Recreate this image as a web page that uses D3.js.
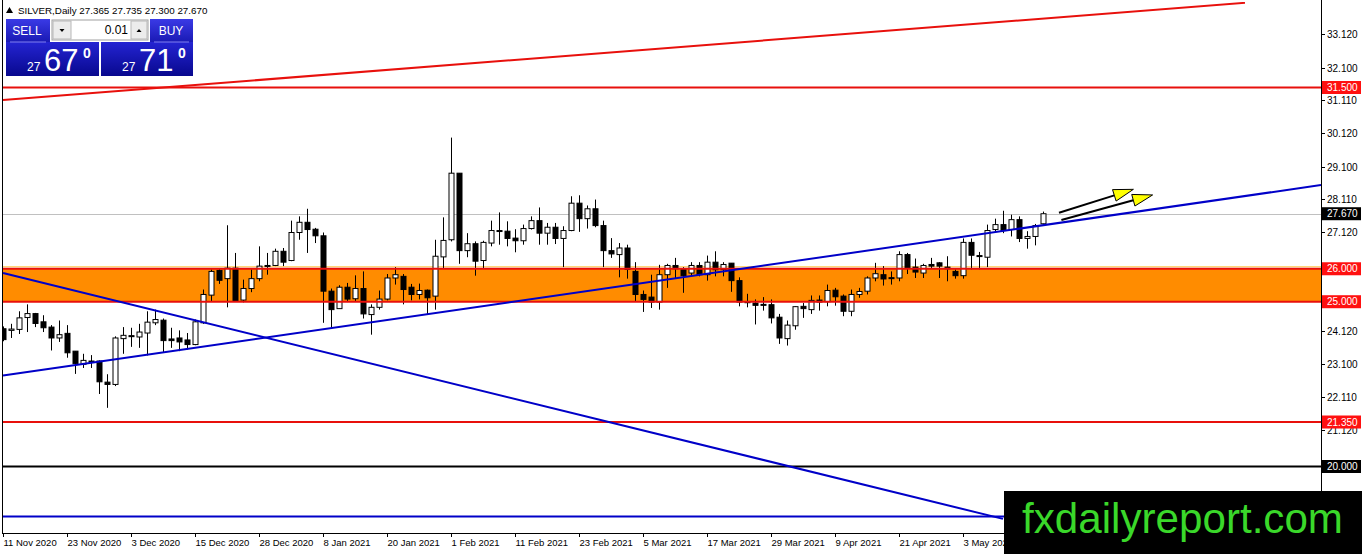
<!DOCTYPE html>
<html><head><meta charset="utf-8">
<script src="https://cdn.jsdelivr.net/npm/d3@7/dist/d3.min.js"></script>
<style>html,body{margin:0;padding:0;background:#fff;overflow:hidden}svg{display:block}text{font-family:"Liberation Sans",Arial,sans-serif}</style>
</head><body><svg id="c" width="1362" height="554"></svg>
<script>
// ---- data ----
const symbolTitle = "SILVER,Daily";
const lastOHLC = [27.365, 27.735, 27.300, 27.670];
// daily candles [open, high, low, close], one per trading day from 11 Nov 2020
const candles = [
[24.18,24.25,23.80,23.85],[24.13,24.33,23.90,24.17],[24.16,24.71,24.02,24.51],[24.52,24.92,24.08,24.64],
[24.64,24.66,24.23,24.34],[24.39,24.59,24.08,24.21],[24.23,24.29,23.52,23.90],[23.90,24.43,23.78,24.00],
[24.04,24.29,23.30,23.45],[23.50,23.50,22.81,23.12],[23.10,23.42,22.99,23.22],[23.18,23.38,22.99,23.20],
[23.20,23.22,22.20,22.57],[22.56,22.80,21.78,22.49],[22.49,23.95,22.44,23.90],[23.88,24.23,23.42,23.98],
[23.97,24.21,23.63,23.94],[23.93,24.33,23.60,24.08],[24.05,24.71,23.37,24.38],[24.36,24.76,24.29,24.46],
[24.44,24.49,23.45,23.82],[23.87,24.21,23.60,23.82],[23.90,24.13,23.50,23.78],[23.84,24.05,23.55,23.70],
[23.70,24.46,23.68,24.39],[24.36,25.37,24.33,25.22],[25.20,25.98,25.02,25.92],[25.95,26.02,25.54,25.65],
[25.70,27.32,24.83,26.02],[26.02,26.48,25.00,25.02],[25.05,25.67,24.98,25.40],[25.40,25.98,25.29,25.70],
[25.70,26.68,25.62,26.08],[26.08,26.48,25.82,26.10],[26.10,26.61,26.08,26.53],[26.53,26.63,26.08,26.20],
[26.25,27.46,26.23,27.10],[27.10,27.59,26.88,27.41],[27.41,27.82,26.48,27.19],[27.20,27.24,26.78,27.00],
[27.00,27.10,24.36,25.32],[25.32,25.40,24.21,24.76],[24.79,25.50,24.79,25.44],[25.44,25.57,24.99,25.08],
[25.09,25.80,25.02,25.40],[25.40,25.92,24.49,24.63],[24.61,24.92,24.00,24.83],[24.83,25.34,24.76,25.08],
[25.08,25.84,25.04,25.72],[25.72,26.05,25.52,25.82],[25.77,25.84,24.92,25.37],[25.44,25.54,25.04,25.22],
[25.22,25.55,25.07,25.34],[25.35,25.37,24.61,25.12],[25.17,26.88,24.76,26.38],[26.36,27.56,26.00,26.86],
[26.88,29.98,26.83,28.90],[28.90,28.90,26.15,26.55],[26.55,27.08,26.35,26.76],[26.76,26.83,25.79,26.23],
[26.25,26.85,26.00,26.80],[26.78,27.46,26.68,27.16],[27.16,27.71,26.73,27.14],[27.14,27.44,26.68,26.92],
[26.93,27.20,26.50,26.85],[26.85,27.34,26.73,27.22],[27.22,27.59,27.19,27.46],[27.46,27.86,26.73,27.08],
[27.08,27.39,26.73,27.26],[27.26,27.39,26.75,26.92],[26.92,27.29,26.05,27.16],[27.16,28.20,27.14,27.99],
[27.99,28.23,27.12,27.52],[27.52,27.92,27.22,27.82],[27.82,28.10,27.26,27.31],[27.31,27.46,26.05,26.55],
[26.55,26.93,26.33,26.45],[26.43,26.78,25.74,26.63],[26.63,26.73,25.70,25.98],[25.92,26.20,25.00,25.22],
[25.22,25.34,24.69,25.07],[25.14,25.82,24.81,24.99],[24.99,26.12,24.76,25.82],[25.82,26.15,25.42,26.10],
[26.10,26.33,25.70,26.00],[25.98,26.05,25.27,25.79],[25.87,26.20,25.80,26.10],[26.10,26.20,25.77,25.82],
[25.82,26.40,25.64,26.20],[26.20,26.53,25.77,25.97],[25.98,26.20,25.77,26.13],[26.17,26.17,25.30,25.64],
[25.64,25.74,24.86,24.99],[25.00,25.24,24.83,24.98],[24.96,25.07,24.31,24.89],[24.92,25.14,24.73,24.90],
[24.91,25.07,24.34,24.51],[24.53,24.63,23.72,23.90],[23.88,24.43,23.67,24.29],[24.27,24.86,24.15,24.85],
[24.86,24.96,24.51,24.79],[24.76,25.19,24.63,25.04],[25.05,25.19,24.73,24.99],[25.00,25.52,24.86,25.34],
[25.35,25.42,24.88,25.15],[25.17,25.22,24.56,24.71],[24.71,25.37,24.56,25.22],[25.22,25.42,25.12,25.31],
[25.32,25.77,25.22,25.72],[25.72,26.18,25.62,25.85],[25.82,26.08,25.49,25.69],[25.73,25.92,25.52,25.71],
[25.72,26.53,25.62,26.43],[26.43,26.48,25.84,26.02],[26.05,26.31,25.72,25.90],[25.87,26.15,25.72,26.10],
[26.13,26.33,26.00,26.08],[26.18,26.20,25.72,26.08],[26.05,26.38,25.62,26.00],[25.92,25.98,25.70,25.79],
[25.79,26.92,25.70,26.80],[26.80,26.92,25.98,26.41],[26.40,26.51,25.98,26.38],[26.35,27.34,26.05,27.16],
[27.19,27.52,27.12,27.34],[27.34,27.76,27.08,27.16],[27.19,27.64,26.98,27.49],[27.49,27.59,26.81,26.92],
[26.92,27.14,26.61,26.98],[26.98,27.36,26.71,27.31],[27.365,27.735,27.30,27.67]
];
const dateLabels = ["11 Nov 2020","23 Nov 2020","3 Dec 2020","15 Dec 2020","28 Dec 2020","8 Jan 2021","20 Jan 2021","1 Feb 2021","11 Feb 2021","23 Feb 2021","5 Mar 2021","17 Mar 2021","29 Mar 2021","9 Apr 2021","21 Apr 2021","3 May 2021"];
const dateLabelEvery = 8; // bars between date labels
const priceTicks = [33.12, 32.10, 31.11, 30.12, 29.10, 28.11, 27.12, 24.12, 23.10, 22.11, 21.12];
const redLevels = [31.5, 26.0, 25.0, 21.35];
const blackLevels = [20.0];
const zone = [25.0, 26.0];
const blueLevel = 18.48;
// trend lines: [barIndex, price] pairs
const redTrend = [[0, 31.12], [155.25, 34.07]];
const blueRising = [[0, 22.76], [164.75, 28.54]];
const blueFalling = [[0, 25.87], [125, 18.41]];
const arrows = [[[132.0, 27.70], [141.3, 28.41]], [[132.3, 27.48], [143.7, 28.24]]];
const sellPrice = ["27", "67", "0"], buyPrice = ["27", "71", "0"], lotSize = "0.01";
const watermark = "fxdailyreport.com";

// ---- layout ----
const svg = d3.select("#c");
const L = 2, R = 1321, T = 2, B = 533;
const x = d3.scaleLinear().domain([0, 164.75]).range([3, R]);
const y = d3.scaleLinear().domain([20, 31.5]).range([466.5, 87.5]);

const defs = svg.append("defs");
defs.append("clipPath").attr("id","plot").append("rect").attr("x",L).attr("y",T).attr("width",R-L).attr("height",B-T);
const g1 = defs.append("linearGradient").attr("id","btn").attr("x1",0).attr("y1",0).attr("x2",0).attr("y2",1);
g1.append("stop").attr("offset","0").attr("stop-color","#3a3ae6");
g1.append("stop").attr("offset","1").attr("stop-color","#1a1ab4");
const g2 = defs.append("linearGradient").attr("id","big").attr("x1",0).attr("y1",0).attr("x2",0).attr("y2",1);
g2.append("stop").attr("offset","0").attr("stop-color","#2424d2");
g2.append("stop").attr("offset","1").attr("stop-color","#08088e");

const plot = svg.append("g").attr("clip-path","url(#plot)");

// zone
plot.append("rect").attr("x",L).attr("width",R-L)
  .attr("y",y(zone[1])).attr("height",y(zone[0])-y(zone[1])).attr("fill","#ff8c00");
plot.append("line").attr("x1",L).attr("x2",R).attr("y1",y(zone[1])-2).attr("y2",y(zone[1])-2)
  .attr("stroke","#ffc84a").attr("stroke-width",1);

// current price line
plot.append("line").attr("x1",L).attr("x2",R).attr("y1",Math.round(y(lastOHLC[3]))+0.5).attr("y2",Math.round(y(lastOHLC[3]))+0.5)
  .attr("stroke","#c0c0c0").attr("stroke-width",1);

// candles
const cg = plot.append("g");
candles.forEach((c, i) => {
  const [o,h,l,cl] = c;
  const cx = Math.round(x(i)) + 0.5;
  cg.append("line").attr("x1",cx).attr("x2",cx).attr("y1",y(h)).attr("y2",y(l)).attr("stroke","#000").attr("stroke-width",1);
  const top = y(Math.max(o,cl)), bot = y(Math.min(o,cl));
  cg.append("rect").attr("x",cx-2.5).attr("width",5)
    .attr("y",top).attr("height",Math.max(bot-top,1))
    .attr("fill", cl >= o ? "#fff" : "#000").attr("stroke","#000").attr("stroke-width",1);
});

// horizontal levels
redLevels.forEach(v => plot.append("line").attr("x1",L).attr("x2",R).attr("y1",y(v)).attr("y2",y(v)).attr("stroke","#e8100c").attr("stroke-width",2));
blackLevels.forEach(v => plot.append("line").attr("x1",L).attr("x2",R).attr("y1",y(v)).attr("y2",y(v)).attr("stroke","#000").attr("stroke-width",2));
plot.append("line").attr("x1",L).attr("x2",R).attr("y1",y(blueLevel)).attr("y2",y(blueLevel)).attr("stroke","#0000c8").attr("stroke-width",2);

// trend lines
const seg = (pts, col) => plot.append("line")
  .attr("x1",x(pts[0][0])).attr("y1",y(pts[0][1])).attr("x2",x(pts[1][0])).attr("y2",y(pts[1][1]))
  .attr("stroke",col).attr("stroke-width",2);
seg(redTrend, "#e8100c");
seg(blueRising, "#0000c8");
seg(blueFalling, "#0000c8");

// arrows
arrows.forEach(a => {
  const x1 = x(a[0][0]), y1 = y(a[0][1]), x2 = x(a[1][0]), y2 = y(a[1][1]);
  const ang = Math.atan2(y2-y1, x2-x1), len = 20, w = 6;
  const bx = x2 - len*Math.cos(ang), by = y2 - len*Math.sin(ang);
  plot.append("line").attr("x1",x1).attr("y1",y1).attr("x2",bx).attr("y2",by).attr("stroke","#000").attr("stroke-width",2);
  const px = -Math.sin(ang)*w, py = Math.cos(ang)*w;
  plot.append("path").attr("d",`M${x2},${y2}L${bx+px},${by+py}L${bx-px},${by-py}Z`)
    .attr("fill","#ffff00").attr("stroke","#000").attr("stroke-width",1);
});

// frame
svg.append("line").attr("x1",L+0.5).attr("x2",L+0.5).attr("y1",0).attr("y2",B).attr("stroke","#000");
svg.append("line").attr("x1",R+0.5).attr("x2",R+0.5).attr("y1",0).attr("y2",B).attr("stroke","#000");
svg.append("line").attr("x1",L).attr("x2",R+1).attr("y1",B+0.5).attr("y2",B+0.5).attr("stroke","#000");

// price axis
const pa = svg.append("g");
priceTicks.forEach(v => {
  const yy = Math.round(y(v)) + 0.5;
  pa.append("line").attr("x1",R).attr("x2",R+4).attr("y1",yy).attr("y2",yy).attr("stroke","#000");
  pa.append("text").attr("x",R+6).attr("y",yy+3.5).attr("font-size",10).attr("fill","#000").text(v.toFixed(3));
});
const tag = (v, bg) => {
  const yy = y(v);
  pa.append("rect").attr("x",R+1).attr("y",yy-6.5).attr("width",39).attr("height",13).attr("fill",bg);
  pa.append("text").attr("x",R+6).attr("y",yy+3.5).attr("font-size",10).attr("fill","#fff").text(v.toFixed(3));
};
redLevels.forEach(v => tag(v, "#ff1010"));
blackLevels.forEach(v => tag(v, "#000"));
tag(lastOHLC[3], "#000");

// date axis
const da = svg.append("g");
dateLabels.forEach((s, i) => {
  const xx = Math.round(x(i*dateLabelEvery)) + 0.5;
  da.append("line").attr("x1",xx).attr("x2",xx).attr("y1",B).attr("y2",B+4).attr("stroke","#000");
  da.append("text").attr("x",xx).attr("y",B+13).attr("font-size",9.5).attr("fill","#000").text(s);
});

// header
svg.append("path").attr("d","M6,13L9.5,7L13,13Z").attr("fill","#000");
svg.append("text").attr("x",18).attr("y",14).attr("font-size",9.8).attr("fill","#000")
  .text(symbolTitle + "  " + lastOHLC.map(v => v.toFixed(3)).join(" "));

// trade panel
const tp = svg.append("g");
tp.append("rect").attr("x",5).attr("y",19).attr("width",189).attr("height",58).attr("fill","#fff");
tp.append("rect").attr("x",6).attr("y",19).attr("width",44).attr("height",23).attr("fill","url(#btn)");
tp.append("rect").attr("x",150).attr("y",19).attr("width",43).attr("height",23).attr("fill","url(#btn)");
tp.append("rect").attr("x",52).attr("y",20).attr("width",96).attr("height",20).attr("fill","#fff").attr("stroke","#a0a0a0");
tp.append("rect").attr("x",53).attr("y",21).attr("width",18).attr("height",18).attr("fill","#ececec").attr("stroke","#b8b8b8");
tp.append("rect").attr("x",131).attr("y",21).attr("width",16).attr("height",18).attr("fill","#ececec").attr("stroke","#b8b8b8");
tp.append("path").attr("d","M59.5,29L64.5,29L62,32Z").attr("fill","#000");
tp.append("path").attr("d","M136.5,32L141.5,32L139,29Z").attr("fill","#000");
tp.append("text").attr("x",128).attr("y",34).attr("text-anchor","end").attr("font-size",12).attr("fill","#000").text(lotSize);
tp.append("text").attr("x",27).attr("y",35).attr("text-anchor","middle").attr("font-size",12).attr("fill","#fff").text("SELL");
tp.append("text").attr("x",171).attr("y",35).attr("text-anchor","middle").attr("font-size",12).attr("fill","#fff").text("BUY");
tp.append("rect").attr("x",6).attr("y",42).attr("width",93).attr("height",34).attr("fill","url(#big)");
tp.append("rect").attr("x",101).attr("y",42).attr("width",92).attr("height",34).attr("fill","url(#big)");
tp.append("line").attr("x1",10).attr("x2",46).attr("y1",42).attr("y2",42).attr("stroke","#8080f0");
tp.append("line").attr("x1",154).attr("x2",189).attr("y1",42).attr("y2",42).attr("stroke","#8080f0");
const priceBox = (p, x0) => {
  tp.append("text").attr("x",x0).attr("y",71).attr("font-size",12).attr("fill","#fff").text(p[0]);
  tp.append("text").attr("x",x0+17).attr("y",71).attr("font-size",31).attr("fill","#fff").text(p[1]);
  tp.append("text").attr("x",x0+56).attr("y",58).attr("font-size",14).attr("font-weight","bold").attr("fill","#fff").text(p[2]);
};
priceBox(sellPrice, 27);
priceBox(buyPrice, 122);

// watermark
svg.append("rect").attr("x",1004).attr("y",491).attr("width",358).attr("height",63).attr("fill","#000");
svg.append("text").attr("x",1022).attr("y",533).attr("font-size",43).attr("fill","#3ad82a")
  .attr("textLength",321).attr("lengthAdjust","spacingAndGlyphs").text(watermark);
</script></body></html>
